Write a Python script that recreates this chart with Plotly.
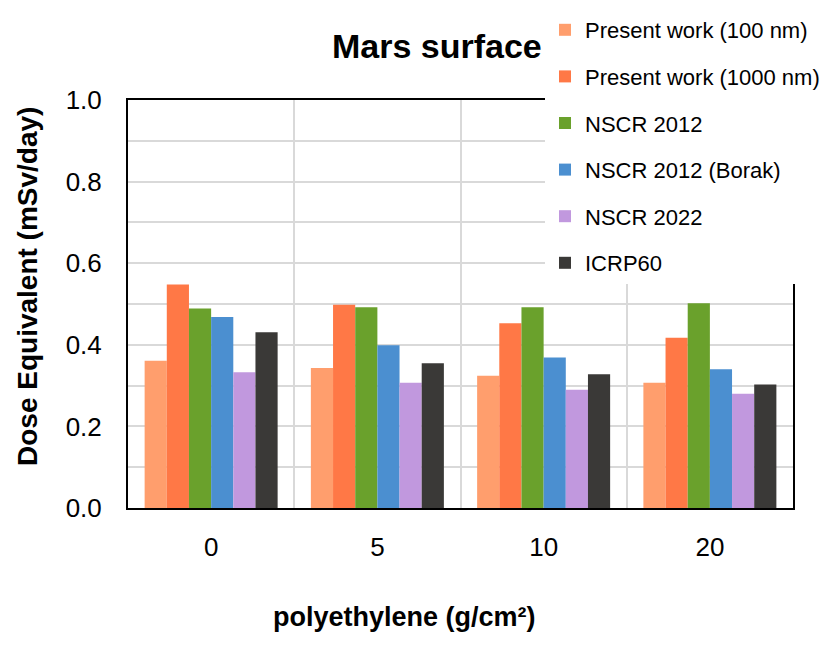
import plotly.graph_objects as go

categories = ["0", "5", "10", "20"]
series_names = ["Present work (100 nm)", "Present work (1000 nm)", "NSCR 2012",
                "NSCR 2012 (Borak)", "NSCR 2022", "ICRP60"]
present_100 = [0.361, 0.343, 0.324, 0.307]
present_1000 = [0.548, 0.498, 0.453, 0.417]
nscr_2012 = [0.489, 0.492, 0.492, 0.502]
nscr_2012_borak = [0.468, 0.399, 0.369, 0.340]
nscr_2022 = [0.333, 0.307, 0.290, 0.280]
icrp60 = [0.431, 0.355, 0.328, 0.303]
colors = ["#FF9E6D", "#FF7846", "#6AA12C", "#4B8FD0", "#C198DE", "#3A3937"]

all_values = [present_100, present_1000, nscr_2012, nscr_2012_borak, nscr_2022, icrp60]

FONT = "Liberation Sans, Arial, sans-serif"

fig = go.Figure()
for i, (name, vals, col) in enumerate(zip(series_names, all_values, colors)):
    fig.add_trace(go.Bar(x=categories, y=vals, name=name, marker_color=col,
                         marker_line_width=0, legendgroup=f"g{i}"))

# page body has an 8px margin, so the figure is 8px smaller and shifted
OFF = 8
W, H = 832 - OFF, 653 - OFF
L, T = 128 - OFF, 100 - OFF
R = W - (793 - OFF)
B = H - (508 - OFF)
pw, ph = W - L - R, H - T - B

fig.update_layout(
    width=W, height=H,
    margin=dict(l=L, r=R, t=T, b=B, autoexpand=False),
    paper_bgcolor="white", plot_bgcolor="white",
    barmode="group", bargap=0.2, bargroupgap=0,
    font=dict(family=FONT, color="#000000"),
    showlegend=True,
    legend=dict(x=(545 - 128) / pw, y=1 + (100 - 9) / ph, xanchor="left", yanchor="top",
                bgcolor="white", font=dict(size=22, family=FONT),
                tracegroupgap=15, itemwidth=30),
    xaxis=dict(type="category", tickson="boundaries", showgrid=True,
               gridcolor="#D9D9D9", gridwidth=1.5, automargin=False,
               showline=True, linecolor="#000000", linewidth=2, mirror=True,
               ticks="", tickfont=dict(size=26, family=FONT),
               ticklabelstandoff=15),
    yaxis=dict(range=[0, 1.0], dtick=0.2, tickformat=".1f", automargin=False,
               showgrid=True, gridcolor="#D9D9D9", gridwidth=1.5,
               minor=dict(dtick=0.1, showgrid=True, gridcolor="#D9D9D9", gridwidth=1.5),
               showline=True, linecolor="#000000", linewidth=2, mirror=True,
               ticks="", tickfont=dict(size=26, family=FONT),
               ticklabelstandoff=19, zeroline=False),
    annotations=[
        dict(text="<b>Mars surface</b>", x=(437 - 128) / pw, y=1 + (100 - 46) / ph,
             xref="paper", yref="paper", showarrow=False,
             xanchor="center", yanchor="middle", font=dict(size=34, family=FONT)),
        dict(text="<b>Dose Equivalent (mSv/day)</b>", x=-(128 - 27) / pw, y=(508 - 287) / ph,
             xref="paper", yref="paper", textangle=-90, showarrow=False,
             xanchor="center", yanchor="middle", font=dict(size=28, family=FONT)),
        dict(text="<b>polyethylene (g/cm²)</b>", x=(404 - 128) / pw, y=-(617 - 508) / ph,
             xref="paper", yref="paper", showarrow=False,
             xanchor="center", yanchor="middle", font=dict(size=27, family=FONT)),
    ],
)

fig.write_html("out.html")
